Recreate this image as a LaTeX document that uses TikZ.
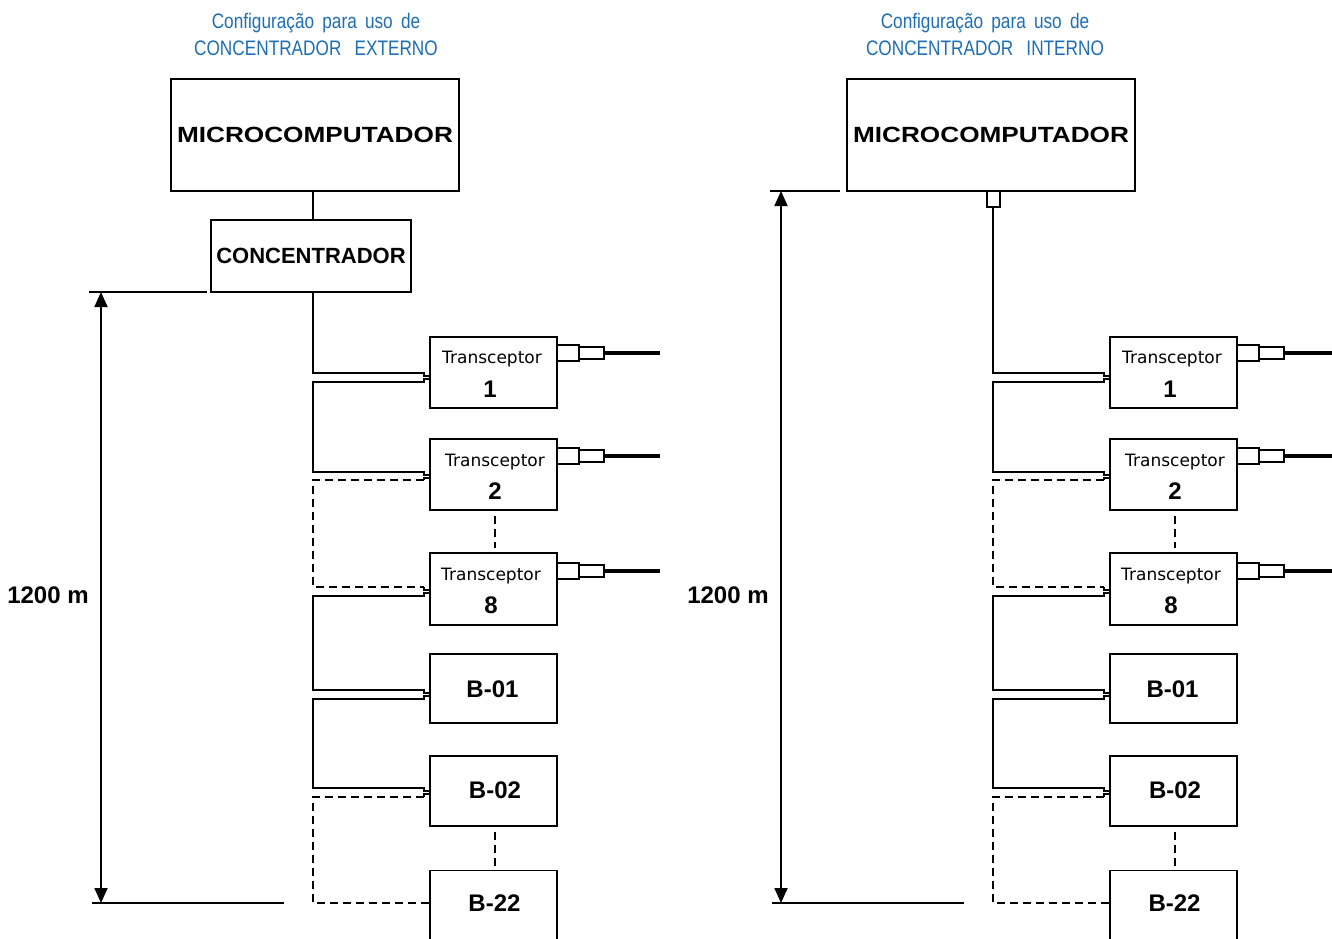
\documentclass[tikz,border=0pt]{standalone}
\usepackage{fontspec}
\setmainfont{Liberation Sans}
\newfontfamily\dejavu{DejaVu Sans}
\usetikzlibrary{arrows.meta,calc}
\definecolor{titleblue}{RGB}{30,110,180}
\newcommand\chain[3]{%
  \node[box] (t1#1) at (493.5,372.5) {};
  \node[box] (t2#1) at (493.5,474.5) {};
  \node[box, minimum height=72pt] (t8#1) at (493.5,589) {};
  \node[box, minimum height=69pt] (b01#1) at (493.5,688.5) {};
  \node[box, minimum height=70pt] (b02#1) at (493.5,791) {};
  \node[box, minimum height=70pt] (b22#1) at (493.5,905.5) {};
  \node[tlab] (t1#1a) at (492,363) {Transceptor};
  \node[nlab] (t1#1b) at (490,397) {1};
  \node[tlab] (t2#1a) at (495,466) {Transceptor};
  \node[nlab] (t2#1b) at (495,499) {2};
  \node[tlab] (t8#1a) at (491,580) {Transceptor};
  \node[nlab] (t8#1b) at (491,613) {8};
  \node[blab] (b01#1a) at (492.5,689) {B-01};
  \node[blab] (b02#1a) at (495,790) {B-02};
  \node[blab] (b22#1a) at (494.5,903) {B-22};
  \foreach \n/\y in {t1/353,t2/456,t8/571}{
    \node[plugA] (\n#1p) at (568,\y) {};
    \node[plugB] (\n#1q) at (591.5,\y) {};
    \draw[cable] (\n#1q.east) -- ++(55,0);
  }
  \draw[wire] (313,#2) -- (313,373) -- (424,373) -- (424,376) -- (430,376);
  \draw[wire] (430,379) -- (424,379) -- (424,382) -- (313,382) -- (313,472) -- (424,472) -- (424,475) -- (430,475);
  \draw[wire] (430,478) -- (424,478) -- (424,480);
  \draw[dwire] (424,480) -- (313,480) -- (313,587) -- (424,587);
  \draw[wire] (424,587) -- (424,590) -- (430,590);
  \draw[wire] (430,593) -- (424,593) -- (424,596) -- (313,596) -- (313,690) -- (424,690) -- (424,693) -- (430,693);
  \draw[wire] (430,696) -- (424,696) -- (424,699) -- (313,699) -- (313,788) -- (424,788) -- (424,791) -- (430,791);
  \draw[wire] (430,794) -- (424,794) -- (424,797);
  \draw[dwire] (424,797) -- (313,797) -- (313,903) -- (b22#1.west |- 0,903);
  \draw[dwire] ($(t2#1.south)+(1.5,5)$) -- ($(t8#1.north)+(1.5,-4)$);
  \draw[dwire] ($(b02#1.south)+(1.5,5)$) -- ($(b22#1.north)+(1.5,-4)$);
  \draw[dimarrow] (101,#3) -- (101,903);
  \draw[dim] (92,903) -- (284,903);
  \node[blab] (dim#1) at (48,595) {1200 m};
}
\begin{document}
\begin{tikzpicture}[x=1pt,y=-1pt,
  every node/.style={inner sep=0pt},
  box/.style={draw, line width=1.8pt, minimum width=127pt, minimum height=71pt},
  bigbox/.style={draw, line width=1.8pt},
  tlab/.style={anchor=base, font=\dejavu\fontsize{17}{20}\selectfont},
  nlab/.style={anchor=base, font=\fontsize{24}{28}\selectfont\bfseries},
  blab/.style={font=\fontsize{24}{28}\selectfont\bfseries},
  heavy/.style={font=\fontsize{22}{26}\selectfont\bfseries},
  title/.style={anchor=base, text=titleblue, font=\fontsize{21}{24}\selectfont},
  wire/.style={line width=1.8pt},
  dwire/.style={line width=1.8pt, dash pattern=on 8pt off 5pt},
  plugA/.style={draw, line width=1.8pt, minimum width=22pt, minimum height=16pt},
  plugB/.style={draw, line width=1.8pt, minimum width=25pt, minimum height=12pt},
  cable/.style={line width=3.5pt},
  dim/.style={line width=1.8pt},
  dimarrow/.style={line width=1.8pt, {Triangle[length=15pt,width=13pt]}-{Triangle[length=15pt,width=13pt]}},
]
\useasboundingbox (0,0) rectangle (1332,938);
\clip (0,0) rectangle (1332,938);
% ---------- left ----------
\node[title] (ttlL1) at (316,28) {\scalebox{0.82}[1]{Configuração\hspace{10pt}para\hspace{10pt}uso\hspace{10pt}de}};
\node[title] (ttlL2) at (316,55) {\scalebox{0.82}[1]{CONCENTRADOR\hspace{16pt}EXTERNO}};
\node[bigbox, heavy, minimum width=288pt, minimum height=112pt] (micro1) at (315,135) {\scalebox{1.19}[1]{MICROCOMPUTADOR}};
\node[bigbox, heavy, minimum width=200pt, minimum height=72pt] (conc1) at (311,256) {CONCENTRADOR};
\coordinate (busL) at (313,300);
\draw[wire] (micro1.south -| busL) -- (conc1.north -| busL);
\coordinate (dtopL) at (89,292);
\draw[dim] (dtopL) -- (207,292);
\chain{L}{292}{292}
% ---------- right ----------
\node[title] (ttlR1) at (985,28) {\scalebox{0.82}[1]{Configuração\hspace{10pt}para\hspace{10pt}uso\hspace{10pt}de}};
\node[title] (ttlR2) at (985,55) {\scalebox{0.82}[1]{CONCENTRADOR\hspace{16pt}INTERNO}};
\node[bigbox, heavy, minimum width=288pt, minimum height=112pt] (micro2) at (991,135) {\scalebox{1.19}[1]{MICROCOMPUTADOR}};
\node[bigbox, minimum width=13pt, minimum height=16pt] (port2) at (993.5,199) {};
\coordinate (dtopR) at (770,191);
\draw[dim] (dtopR) -- (840,191);
\begin{scope}[xshift=680pt]
\chain{R}{207}{191}
\end{scope}
\end{tikzpicture}
\end{document}
